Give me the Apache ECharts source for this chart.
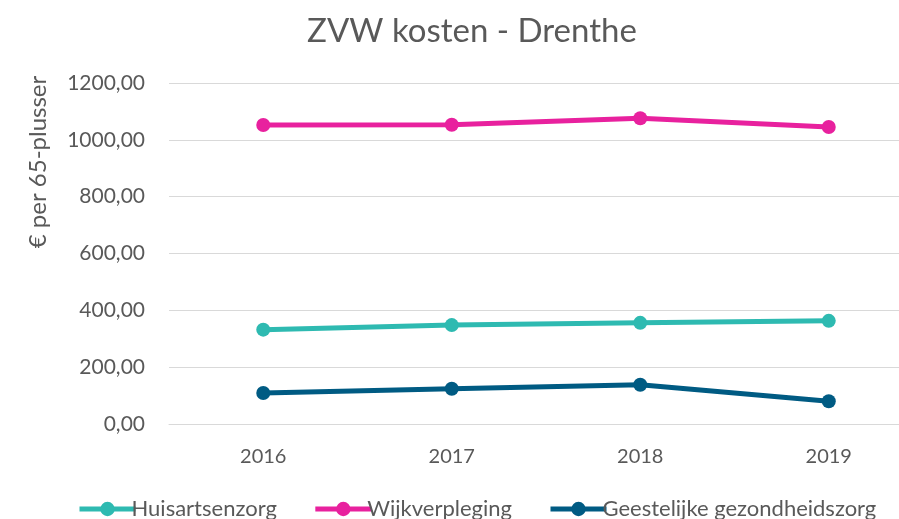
<!DOCTYPE html>
<html><head><meta charset="utf-8">
<script src="https://cdn.jsdelivr.net/npm/echarts@6/dist/echarts.min.js"></script>
<style>html,body{margin:0;padding:0;background:#fff;overflow:hidden}#c{width:944px;height:519px}</style>
</head><body><div id="c"></div>
<script>
const categories = ['2016', '2017', '2018', '2019'];
const huisartsenzorg = [332, 348, 356, 363];
const wijkverpleging = [1052, 1053, 1076, 1045];
const geestelijke = [109, 124, 138, 80];
const seriesNames = ['Huisartsenzorg', 'Wijkverpleging', 'Geestelijke gezondheidszorg'];
const colors = ['#2EBAB1', '#E8219E', '#005B83'];
const FONT = 'Lato, "Open Sans", sans-serif';
const TXT = '#595959';

const chart = echarts.init(document.getElementById('c'));
const mk = (name, data, color) => ({
  name, type: 'line', data, color,
  symbol: 'circle', symbolSize: 14,
  lineStyle: { width: 5, color },
  itemStyle: { color },
  z: 3
});
chart.setOption({
  animation: false,
  title: { text: 'ZVW kosten - Drenthe', left: 'center', top: 10,
    textStyle: { fontFamily: FONT, fontSize: 33, fontWeight: 'normal', color: TXT } },
  grid: { left: 169, right: 21, top: 83, bottom: 95, containLabel: false },
  legend: {
    bottom: -6, left: 72, itemGap: 36, itemWidth: 56, itemHeight: 18,
    lineStyle: { width: 5 },
    textStyle: { fontFamily: FONT, fontSize: 22, color: TXT, padding: [0, 0, 0, -9] },
    data: seriesNames
  },
  xAxis: {
    type: 'category', data: categories, boundaryGap: true,
    axisLine: { lineStyle: { color: '#D9D9D9', width: 1 } },
    axisTick: { show: false },
    axisLabel: { fontFamily: FONT, fontSize: 20, color: TXT, margin: 23 }
  },
  yAxis: {
    type: 'value', min: 0, max: 1200, interval: 200,
    axisLine: { show: false }, axisTick: { show: false },
    splitLine: { lineStyle: { color: '#D9D9D9', width: 1 } },
    axisLabel: { fontFamily: FONT, fontSize: 21, color: TXT, margin: 24,
      formatter: v => v.toFixed(2).replace('.', ',') }
  },
  graphic: [{
    type: 'text', x: 38, y: 162, rotation: Math.PI / 2,
    style: { text: '€ per 65-plusser', fontFamily: FONT, fontSize: 24, fill: TXT,
      align: 'center', verticalAlign: 'middle' }
  }],
  series: [
    mk(seriesNames[0], huisartsenzorg, colors[0]),
    mk(seriesNames[1], wijkverpleging, colors[1]),
    mk(seriesNames[2], geestelijke, colors[2])
  ]
});
</script></body></html>
